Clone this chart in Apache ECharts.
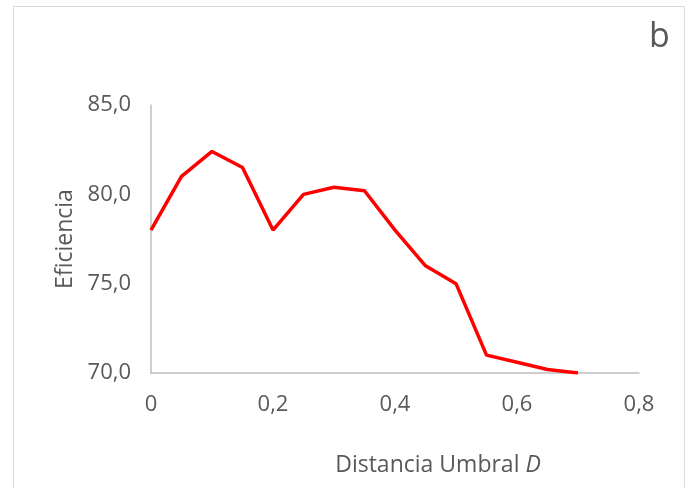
<!DOCTYPE html>
<html><head><meta charset="utf-8">
<script src="https://cdn.jsdelivr.net/npm/echarts@6/dist/echarts.min.js"></script>
<style>html,body{margin:0;padding:0;background:#fff}#c{width:688px;height:488px}</style>
</head><body><div id="c"></div>
<script>
const xValues = [0, 0.05, 0.1, 0.15, 0.2, 0.25, 0.3, 0.35, 0.4, 0.45, 0.5, 0.55, 0.6, 0.65, 0.7];
const eficiencia = [78.0, 81.0, 82.4, 81.5, 78.0, 80.0, 80.4, 80.2, 78.0, 76.0, 75.0, 71.0, 70.6, 70.2, 70.0];
const panelLabel = 'b';
const xTitle = 'Distancia Umbral ';
const xTitleItalic = 'D';
const yTitle = 'Eficiencia';

const FONT = 'Open Sans';
const TXT = '#595959';
const chart = echarts.init(document.getElementById('c'), null, {renderer: 'canvas'});
chart.setOption({
  backgroundColor: '#fff',
  animation: false,
  graphic: [
    {type: 'rect', shape: {x: 13.5, y: 6.5, width: 671, height: 490}, style: {fill: 'none', stroke: '#d9d9d9', lineWidth: 1}},
    {type: 'text', left: 649, top: 20, style: {text: panelLabel, font: '34px "Open Sans"', fill: TXT}}
  ],
  grid: {left: 151, right: 49, top: 105, bottom: 115},
  xAxis: {
    type: 'value', min: 0, max: 0.8, interval: 0.2,
    axisLine: {show: true, lineStyle: {color: '#bfbfbf', width: 1.5}},
    axisTick: {show: false}, splitLine: {show: false},
    axisLabel: {color: TXT, fontFamily: FONT, fontSize: 22, margin: 21,
      formatter: v => (v === 0 ? '0' : v.toFixed(1).replace('.', ','))},
    name: '{n|' + xTitle + '}{i|' + xTitleItalic + '}', nameLocation: 'middle', nameGap: 81,
    nameTextStyle: {padding: [0, 0, 0, 86], rich: {
      n: {fontFamily: FONT, fontSize: 23, color: TXT},
      i: {fontFamily: FONT, fontSize: 23, color: TXT, fontStyle: 'italic'}}}
  },
  yAxis: {
    type: 'value', min: 70, max: 85, interval: 5,
    axisLine: {show: true, lineStyle: {color: '#bfbfbf', width: 1.5}},
    axisTick: {show: false}, splitLine: {show: false},
    axisLabel: {color: TXT, fontFamily: FONT, fontSize: 22, margin: 20,
      formatter: v => v.toFixed(1).replace('.', ',')},
    name: yTitle, nameLocation: 'middle', nameGap: 74,
    nameTextStyle: {fontFamily: FONT, fontSize: 23, color: TXT}
  },
  series: [{
    type: 'line', data: xValues.map((x, i) => [x, eficiencia[i]]),
    symbol: 'none', lineStyle: {color: '#ff0000', width: 3.5}, itemStyle: {color: '#ff0000'}
  }]
});
</script></body></html>
